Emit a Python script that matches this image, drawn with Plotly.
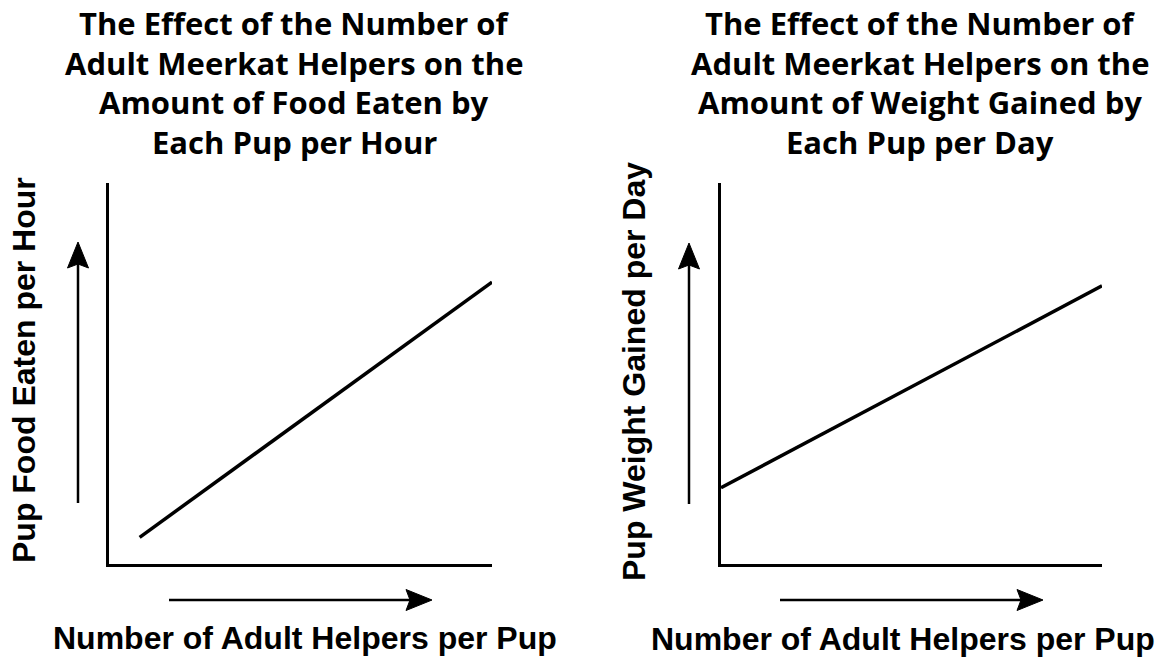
import plotly.graph_objects as go

W, H = 1172, 658

# Conceptual trend data (arbitrary units, axes range 0-10)
helpers_food = [0.8, 10.0]
food_eaten = [0.7, 7.4]
helpers_weight = [0.0, 10.0]
weight_gained = [2.0, 7.3]

title_food = ["The Effect of the Number of", "Adult Meerkat Helpers on the",
              "Amount of Food Eaten by", "Each Pup per Hour"]
title_weight = ["The Effect of the Number of", "Adult Meerkat Helpers on the",
                "Amount of Weight Gained by", "Each Pup per Day"]
x_label = "Number of Adult Helpers per Pup"
y_label_food = "Pup Food Eaten per Hour"
y_label_weight = "Pup Weight Gained per Day"

TITLE_FONT = dict(family="Open Sans", size=31, color="black", weight="bold")
LABEL_FONT = dict(family="Liberation Sans", size=32, color="black", weight="bold")


def px(x):
    return x / W


def py(y):
    return 1 - y / H


fig = go.Figure()
fig.add_trace(go.Scatter(x=helpers_food, y=food_eaten, mode="lines",
                         line=dict(color="black", width=3.5),
                         xaxis="x", yaxis="y", hoverinfo="skip"))
fig.add_trace(go.Scatter(x=helpers_weight, y=weight_gained, mode="lines",
                         line=dict(color="black", width=3.5),
                         xaxis="x2", yaxis="y2", hoverinfo="skip"))

axis_common = dict(range=[0, 10], showgrid=False, zeroline=False, showticklabels=False,
                   ticks="", showline=True, linecolor="black", linewidth=2.5, fixedrange=True)

fig.update_layout(
    width=W, height=H,
    margin=dict(l=0, r=0, t=0, b=0),
    paper_bgcolor="white", plot_bgcolor="white",
    showlegend=False,
    xaxis=dict(domain=[px(109), px(492)], anchor="y", **axis_common),
    yaxis=dict(domain=[py(564), py(183)], anchor="x", **axis_common),
    xaxis2=dict(domain=[px(721), px(1102)], anchor="y2", **axis_common),
    yaxis2=dict(domain=[py(564), py(183)], anchor="x2", **axis_common),
)

shapes = []


def up_arrow(x, y0, y1):
    shapes.append(dict(type="line", xref="paper", yref="paper",
                       x0=px(x), x1=px(x), y0=py(y0), y1=py(y1 + 20),
                       line=dict(color="black", width=2.5)))
    path = (f"M {px(x)},{py(y1)} L {px(x + 10.5)},{py(y1 + 26)} "
            f"L {px(x)},{py(y1 + 22)} L {px(x - 10.5)},{py(y1 + 26)} Z")
    shapes.append(dict(type="path", xref="paper", yref="paper", path=path,
                       fillcolor="black", line=dict(color="black", width=1)))


def right_arrow(y, x0, x1):
    shapes.append(dict(type="line", xref="paper", yref="paper",
                       x0=px(x0), x1=px(x1 - 20), y0=py(y), y1=py(y),
                       line=dict(color="black", width=2.5)))
    path = (f"M {px(x1)},{py(y)} L {px(x1 - 26)},{py(y - 10.5)} "
            f"L {px(x1 - 22)},{py(y)} L {px(x1 - 26)},{py(y + 10.5)} Z")
    shapes.append(dict(type="path", xref="paper", yref="paper", path=path,
                       fillcolor="black", line=dict(color="black", width=1)))


up_arrow(78, 503, 242)
up_arrow(689, 504, 243)
right_arrow(600, 169, 432)
right_arrow(600, 780, 1043)
fig.update_layout(shapes=shapes)

annotations = []
for cx, lines in ((294, title_food), (920, title_weight)):
    for txt, cy in zip(lines, [23, 63, 102, 142]):
        annotations.append(dict(text=txt, xref="paper", yref="paper", x=px(cx), y=py(cy),
                                xanchor="center", yanchor="middle", showarrow=False,
                                font=TITLE_FONT))

annotations.append(dict(text=x_label, xref="paper", yref="paper", x=px(305), y=py(638),
                        xanchor="center", yanchor="middle", showarrow=False, font=LABEL_FONT))
annotations.append(dict(text=x_label, xref="paper", yref="paper", x=px(903), y=py(639),
                        xanchor="center", yanchor="middle", showarrow=False, font=LABEL_FONT))
annotations.append(dict(text=y_label_food, xref="paper", yref="paper", x=px(24), y=py(370),
                        xanchor="center", yanchor="middle", showarrow=False, textangle=-90,
                        font=LABEL_FONT))
annotations.append(dict(text=y_label_weight, xref="paper", yref="paper", x=px(634), y=py(372),
                        xanchor="center", yanchor="middle", showarrow=False, textangle=-90,
                        font=LABEL_FONT))
fig.update_layout(annotations=annotations)

fig.write_html("out.html", config={"displayModeBar": False})
